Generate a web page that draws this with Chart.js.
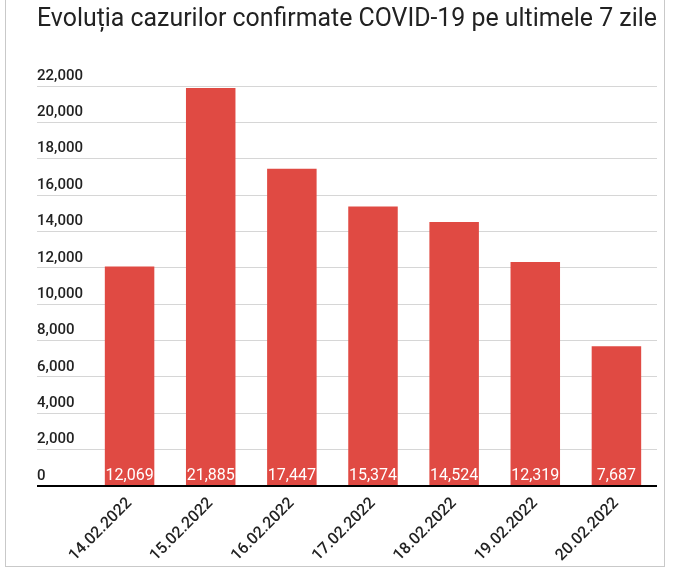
<!DOCTYPE html>
<html>
<head>
<meta charset="utf-8">
<title>Evoluția cazurilor confirmate COVID-19</title>
<script src="https://cdn.jsdelivr.net/npm/chart.js@4.4.1/dist/chart.umd.min.js"></script>
<style>
    html, body { margin: 0; padding: 0; background: #fff; }
    #wrap { position: relative; width: 673px; height: 571px; overflow: hidden; }
    #frame { position: absolute; left: 5px; top: -1px; width: 660px; height: 568px; border: 1px solid #c9c9c9; box-sizing: border-box; }
    #chart { position: absolute; left: 0; top: 0; }
</style>
</head>
<body>
<div id="wrap">
    <div id="frame"></div>
    <canvas id="chart" width="673" height="571"></canvas>
</div>
<script>
// data
var titleText = 'Evoluția cazurilor confirmate COVID-19 pe ultimele 7 zile';
var dates = ['14.02.2022', '15.02.2022', '16.02.2022', '17.02.2022', '18.02.2022', '19.02.2022', '20.02.2022'];
var cases = [12069, 21885, 17447, 15374, 14524, 12319, 7687];
var yMin = 0;
var yMax = 22000;
var yStep = 2000;

var barColor = '#e04a43';
var textColor = '#222222';

function fmt(v) {
    return Number(v).toLocaleString('en-US');
}

// white value labels at the foot of each bar
var barValues = {
    id: 'barValues',
    afterDatasetsDraw: function (chart) {
        var ctx = chart.ctx;
        var meta = chart.getDatasetMeta(0);
        ctx.save();
        ctx.font = '16px Roboto';
        ctx.fillStyle = '#ffffff';
        ctx.textAlign = 'center';
        ctx.textBaseline = 'alphabetic';
        meta.data.forEach(function (bar, i) {
            ctx.fillText(fmt(chart.data.datasets[0].data[i]), bar.x, bar.base - 5);
        });
        ctx.restore();
    }
};

var ctx = document.getElementById('chart').getContext('2d');
var chart = new Chart(ctx, {
    type: 'bar',
    data: {
        labels: dates,
        datasets: [{
            data: cases,
            backgroundColor: barColor,
            borderWidth: 0,
            barPercentage: 0.61,
            categoryPercentage: 1
        }]
    },
    options: {
        responsive: false,
        animation: false,
        layout: { padding: { left: 37, right: 16, top: 0, bottom: 0 } },
        plugins: {
            legend: { display: false },
            tooltip: { enabled: false },
            title: {
                display: true,
                text: titleText,
                align: 'start',
                color: textColor,
                font: { family: 'Roboto', size: 25, weight: 'normal', lineHeight: 1.2 },
                padding: { top: 5, bottom: 51 }
            }
        },
        scales: {
            x: {
                grid: { display: false, drawTicks: false },
                border: { display: false },
                ticks: {
                    color: textColor,
                    font: { family: 'Roboto', size: 16, weight: '500' },
                    minRotation: 45,
                    maxRotation: 45,
                    padding: 8
                },
                afterFit: function (scale) { scale.height = 85; }
            },
            y: {
                min: yMin,
                max: yMax,
                border: { display: false },
                grid: {
                    color: function (c) { return c.tick && c.tick.value === 0 ? '#000000' : '#d6d6d6'; },
                    lineWidth: function (c) { return c.tick && c.tick.value === 0 ? 2 : 1; },
                    drawTicks: true,
                    tickLength: 52
                },
                ticks: {
                    stepSize: yStep,
                    color: textColor,
                    font: { family: 'Roboto', size: 15, weight: '500' },
                    crossAlign: 'far',
                    padding: 0,
                    labelOffset: -10,
                    callback: function (v) { return fmt(v); }
                },
                afterFit: function (scale) { scale.width = 52; }
            }
        }
    },
    plugins: [barValues]
});
</script>
</body>
</html>
